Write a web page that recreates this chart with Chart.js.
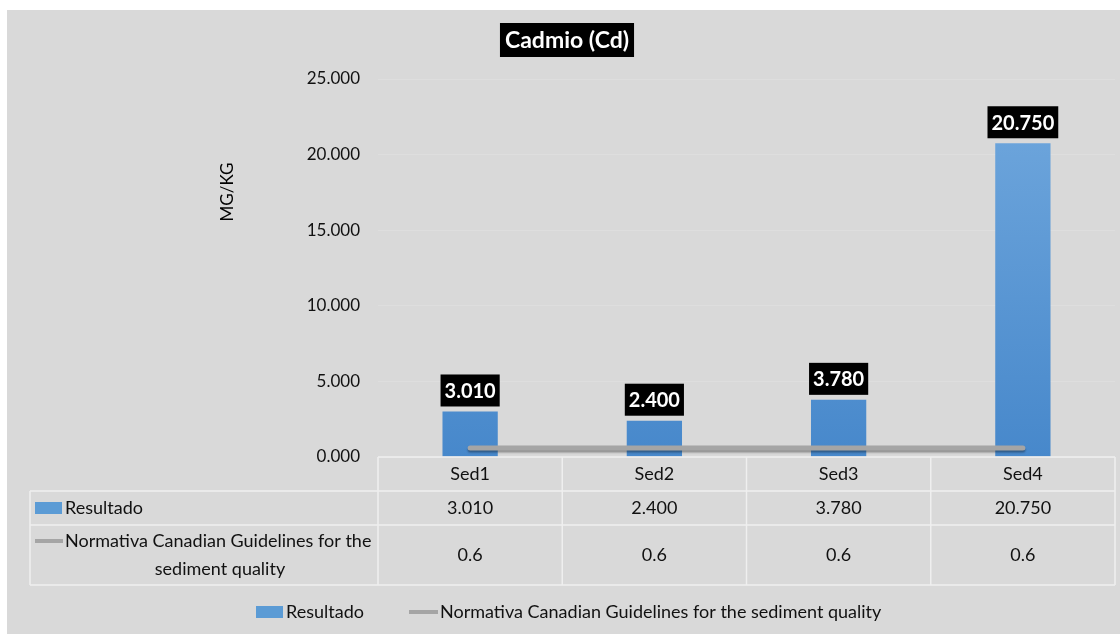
<html>
<head>
<script src="https://cdn.jsdelivr.net/npm/chart.js@4.4.1/dist/chart.umd.min.js"></script>
</head>
<body style="margin:0; background:#ffffff; overflow:hidden;">
<div style="position:absolute; left:7px; top:10px; width:1113px; height:624px; background:#d9d9d9;"></div>
<canvas id="cdChart" width="1120" height="634" style="position:absolute; left:0; top:0;"></canvas>

<script>
const categories = ["Sed1", "Sed2", "Sed3", "Sed4"];
const resultado = [3.010, 2.400, 3.780, 20.750];
const normativa = [0.6, 0.6, 0.6, 0.6];
const yTicks = [0, 5, 10, 15, 20, 25];

const FONT = "Lato, 'Open Sans', sans-serif";
const fmt3 = v => v.toFixed(3);

// title box, axis title, value labels, data table and bottom legend
const extras = {
  id: "extras",
  beforeDatasetDraw(chart, args) {
    if (args.index === 1) {
      chart.ctx.save();
      chart.ctx.shadowColor = "rgba(0,0,0,0.35)";
      chart.ctx.shadowOffsetY = 2;
      chart.ctx.shadowBlur = 2;
    }
  },
  afterDatasetDraw(chart, args) {
    if (args.index === 1) chart.ctx.restore();
  },
  afterDraw(chart) {
    const ctx = chart.ctx;
    const x = chart.scales.x;
    const area = chart.chartArea;
    const barSet = chart.data.datasets[0];
    const lineSet = chart.data.datasets[1];
    ctx.save();

    // title
    ctx.font = "bold 23px " + FONT;
    ctx.textAlign = "center";
    ctx.textBaseline = "middle";
    const tw = ctx.measureText("Cadmio (Cd)").width;
    ctx.fillStyle = "#000";
    ctx.fillRect(567 - tw / 2 - 5, 23, tw + 10, 34);
    ctx.fillStyle = "#fff";
    ctx.fillText("Cadmio (Cd)", 567, 41);

    // axis title
    ctx.save();
    ctx.translate(228, 192);
    ctx.rotate(-Math.PI / 2);
    ctx.font = "17px " + FONT;
    ctx.fillStyle = "#000";
    ctx.fillText("MG/KG", 0, 0);
    ctx.restore();

    // value labels on bars
    const meta = chart.getDatasetMeta(0);
    ctx.font = "bold 20px " + FONT;
    meta.data.forEach((bar, i) => {
      const txt = fmt3(resultado[i]);
      const w = ctx.measureText(txt).width + 8;
      ctx.fillStyle = "#000";
      ctx.fillRect(bar.x - w / 2, bar.y - 37, w, 32);
      ctx.fillStyle = "#fff";
      ctx.fillText(txt, bar.x, bar.y - 20);
    });

    // data table
    const left = 30, top = area.bottom;
    const rows = [top, top + 34, top + 68, top + 128];
    const half = (x.getPixelForValue(1) - x.getPixelForValue(0)) / 2;
    const colEdges = categories.map((c, i) => x.getPixelForValue(i) - half);
    colEdges.push(x.getPixelForValue(categories.length - 1) + half);
    ctx.strokeStyle = "#efefef";
    ctx.lineWidth = 1.5;
    ctx.beginPath();
    ctx.moveTo(colEdges[0], rows[0]); ctx.lineTo(colEdges[4], rows[0]);
    for (let r = 1; r < rows.length; r++) {
      ctx.moveTo(left, rows[r]); ctx.lineTo(colEdges[4], rows[r]);
    }
    colEdges.forEach(cx => { ctx.moveTo(cx, rows[0]); ctx.lineTo(cx, rows[3]); });
    ctx.moveTo(left, rows[1]); ctx.lineTo(left, rows[3]);
    ctx.stroke();

    ctx.font = "18px " + FONT;
    ctx.fillStyle = "#111";
    categories.forEach((c, i) => {
      const cx = x.getPixelForValue(i);
      ctx.fillText(c, cx, (rows[0] + rows[1]) / 2);
      ctx.fillText(fmt3(resultado[i]), cx, (rows[1] + rows[2]) / 2);
      ctx.fillText(String(normativa[i]), cx, (rows[2] + rows[3]) / 2);
    });

    // row legend keys
    ctx.fillStyle = "#5b9bd5";
    ctx.fillRect(35, rows[1] + 11, 27, 12);
    ctx.fillStyle = "#111";
    ctx.textAlign = "left";
    ctx.fillText(barSet.label, 65, (rows[1] + rows[2]) / 2);
    ctx.strokeStyle = "#a5a5a5";
    ctx.lineWidth = 4;
    ctx.beginPath();
    ctx.moveTo(35, rows[2] + 16); ctx.lineTo(63, rows[2] + 16);
    ctx.stroke();
    ctx.fillText("Normativa Canadian Guidelines for the", 65, rows[2] + 16);
    ctx.textAlign = "center";
    ctx.fillText("sediment quality", 220, rows[2] + 44);

    // bottom legend
    const ly = 612;
    ctx.fillStyle = "#5b9bd5";
    ctx.fillRect(256, ly - 6, 27, 12);
    ctx.fillStyle = "#111";
    ctx.textAlign = "left";
    ctx.fillText(barSet.label, 286, ly);
    ctx.strokeStyle = "#a5a5a5";
    ctx.beginPath();
    ctx.moveTo(409, ly); ctx.lineTo(438, ly);
    ctx.stroke();
    ctx.fillText(lineSet.label, 440, ly);

    ctx.restore();
  }
};

function barGradient(context) {
  const area = context.chart.chartArea;
  if (!area) return "#5b9bd5";
  const g = context.chart.ctx.createLinearGradient(0, area.top, 0, area.bottom);
  g.addColorStop(0, "#72a9de");
  g.addColorStop(1, "#4788cb");
  return g;
}

new Chart("cdChart", {
  data: {
    labels: categories,
    datasets: [
      {
        type: "bar",
        label: "Resultado",
        data: resultado,
        backgroundColor: barGradient,
        barPercentage: 0.3,
        categoryPercentage: 1,
        order: 1
      },
      {
        type: "line",
        label: "Normativa Canadian Guidelines for the sediment quality",
        data: normativa,
        borderColor: "#a5a5a5",
        borderWidth: 5,
        borderCapStyle: "round",
        pointRadius: 0,
        order: 0
      }
    ]
  },
  options: {
    responsive: false,
    animation: false,
    layout: { padding: { left: 300, right: 5, top: 79, bottom: 177 } },
    plugins: { legend: { display: false }, tooltip: { enabled: false } },
    scales: {
      x: { display: false, offset: true },
      y: {
        min: 0,
        max: 25,
        afterFit: s => { s.width = 78; },
        afterBuildTicks: s => { s.ticks = yTicks.map(v => ({ value: v })); },
        border: { display: false },
        grid: { color: "#dedede", drawTicks: false },
        ticks: {
          padding: 18,
          color: "#111",
          font: { family: FONT, size: 17 },
          callback: v => fmt3(v)
        }
      }
    }
  },
  plugins: [extras]
});
</script>
</body>
</html>
